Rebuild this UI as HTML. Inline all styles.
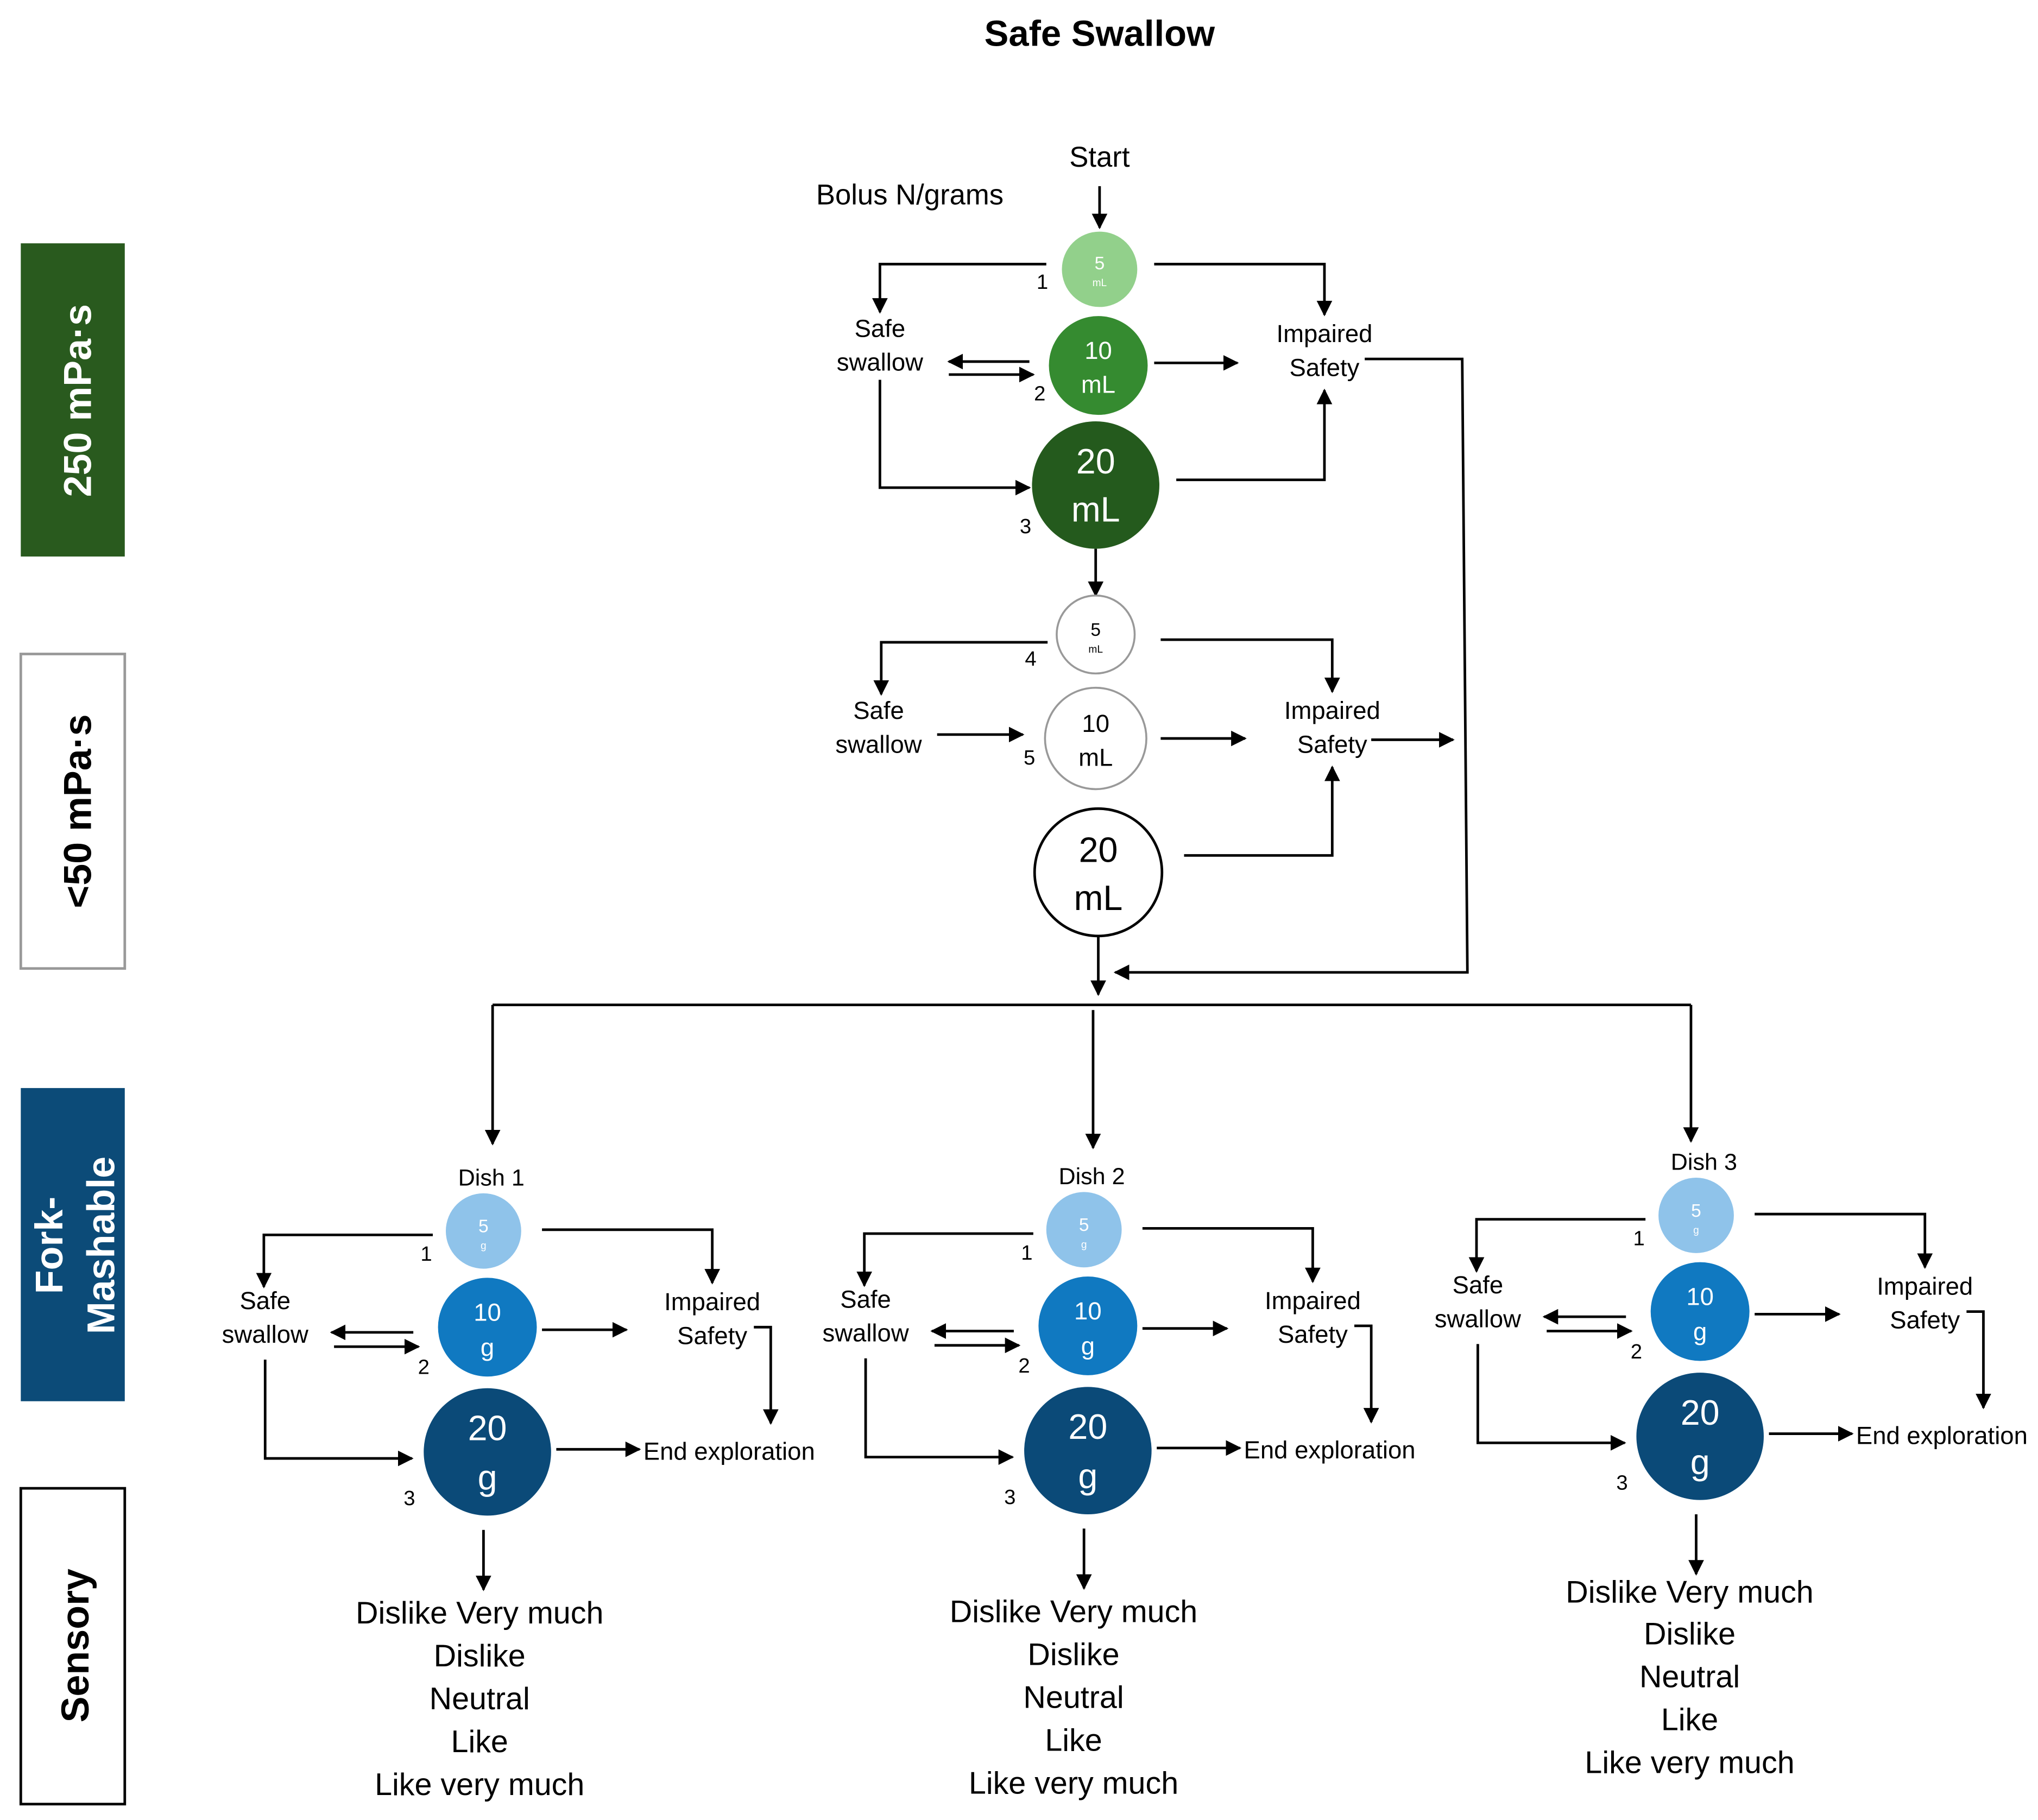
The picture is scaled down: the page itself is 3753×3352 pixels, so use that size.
<!DOCTYPE html>
<html><head><meta charset="utf-8"><style>
html,body{margin:0;padding:0;background:#fff;}
svg{display:block;}
text{font-family:"Liberation Sans",sans-serif;}
</style></head><body>
<svg width="3753" height="3352" viewBox="0 0 1568 1400" xmlns="http://www.w3.org/2000/svg">
<defs>
<marker id="a" viewBox="0 0 10 10" refX="9" refY="5" markerWidth="6" markerHeight="6" orient="auto-start-reverse" markerUnits="strokeWidth"><path d="M0,0L10,5L0,10z" fill="#000"/></marker>
</defs>
<rect width="1568" height="1400" fill="#fff"/>
<text x="846" y="35" font-size="28" font-weight="bold" text-anchor="middle">Safe Swallow</text>

<rect x="16" y="187" width="80" height="241" fill="#295a1e"/>
<text transform="translate(70,308) rotate(-90)" font-size="30" font-weight="bold" fill="#fff" text-anchor="middle">250 mPa·s</text>
<rect x="16" y="503" width="80" height="242" fill="#fff" stroke="#999" stroke-width="2"/>
<text transform="translate(70,624) rotate(-90)" font-size="30" font-weight="bold" text-anchor="middle">&lt;50 mPa·s</text>
<rect x="16" y="837" width="80" height="241" fill="#0c4b78"/>
<text transform="translate(48,958) rotate(-90)" font-size="30" font-weight="bold" fill="#fff" text-anchor="middle">Fork-</text>
<text transform="translate(88,958) rotate(-90)" font-size="30" font-weight="bold" fill="#fff" text-anchor="middle">Mashable</text>
<rect x="16" y="1145" width="80" height="243" fill="#fff" stroke="#000" stroke-width="2"/>
<text transform="translate(68,1266) rotate(-90)" font-size="30" font-weight="bold" text-anchor="middle">Sensory</text>

<g stroke="#000" stroke-width="2" fill="none">
<path d="M846,143V175" marker-end="url(#a)"/>
<path d="M805,203H677V240" marker-end="url(#a)"/>
<path d="M888,203H1019V242" marker-end="url(#a)"/>
<path d="M792,278H730" marker-end="url(#a)"/>
<path d="M730,288H795" marker-end="url(#a)"/>
<path d="M888,279H952" marker-end="url(#a)"/>
<path d="M677,292V375H792" marker-end="url(#a)"/>
<path d="M905,369H1019V300" marker-end="url(#a)"/>
<path d="M1050,276H1125L1129,748H858" marker-end="url(#a)"/>
<path d="M843,422V458" marker-end="url(#a)"/>
<path d="M806,494H678V534" marker-end="url(#a)"/>
<path d="M893,492H1025V532" marker-end="url(#a)"/>
<path d="M721,565H787" marker-end="url(#a)"/>
<path d="M893,568H958" marker-end="url(#a)"/>
<path d="M1055,569H1118" marker-end="url(#a)"/>
<path d="M911,658H1025V590" marker-end="url(#a)"/>
<path d="M845,720V765" marker-end="url(#a)"/>
<path d="M379,773H1301"/>
<path d="M379,773V880" marker-end="url(#a)"/>
<path d="M841,777V883" marker-end="url(#a)"/>
<path d="M1301,773V878" marker-end="url(#a)"/>
</g>

<circle cx="846" cy="207" r="29" fill="#92d08b"/>
<text x="846" y="207" font-size="14" fill="#fff" text-anchor="middle">5</text>
<text x="846" y="220" font-size="8" fill="#fff" text-anchor="middle">mL</text>
<circle cx="845" cy="281" r="38" fill="#358b30"/>
<text x="845" y="276" font-size="19" fill="#fff" text-anchor="middle">10</text>
<text x="845" y="302" font-size="19" fill="#fff" text-anchor="middle">mL</text>
<circle cx="843" cy="373" r="49" fill="#245a1d"/>
<text x="843" y="364" font-size="27" fill="#fff" text-anchor="middle">20</text>
<text x="843" y="401" font-size="27" fill="#fff" text-anchor="middle">mL</text>
<text x="846" y="128" font-size="22" text-anchor="middle">Start</text>
<text x="700" y="157" font-size="22" text-anchor="middle">Bolus N/grams</text>
<g font-size="16" text-anchor="middle">
<text x="802" y="222">1</text><text x="800" y="308">2</text><text x="789" y="410">3</text>
<text x="793" y="512">4</text><text x="792" y="588">5</text>
</g>
<g font-size="19" text-anchor="middle">
<text x="677" y="259">Safe</text><text x="677" y="285">swallow</text>
<text x="1019" y="263">Impaired</text><text x="1019" y="289">Safety</text>
<text x="676" y="553">Safe</text><text x="676" y="579">swallow</text>
<text x="1025" y="553">Impaired</text><text x="1025" y="579">Safety</text>
</g>

<circle cx="843" cy="488" r="30" fill="#fff" stroke="#999" stroke-width="1.5"/>
<text x="843" y="489" font-size="14" text-anchor="middle">5</text>
<text x="843" y="502" font-size="8" text-anchor="middle">mL</text>
<circle cx="843" cy="568" r="39" fill="#fff" stroke="#999" stroke-width="1.5"/>
<text x="843" y="563" font-size="19" text-anchor="middle">10</text>
<text x="843" y="589" font-size="19" text-anchor="middle">mL</text>
<circle cx="845" cy="671" r="49" fill="#fff" stroke="#000" stroke-width="2"/>
<text x="845" y="663" font-size="27" text-anchor="middle">20</text>
<text x="845" y="700" font-size="27" text-anchor="middle">mL</text>

<g>
<g stroke="#000" stroke-width="2" fill="none">
<path d="M333,950H203V990" marker-end="url(#a)"/>
<path d="M417,946H548V987" marker-end="url(#a)"/>
<path d="M318,1025H255" marker-end="url(#a)"/>
<path d="M257,1036H322" marker-end="url(#a)"/>
<path d="M417,1023H482" marker-end="url(#a)"/>
<path d="M580,1021H593V1095" marker-end="url(#a)"/>
<path d="M204,1046V1122H317" marker-end="url(#a)"/>
<path d="M428,1115H492" marker-end="url(#a)"/>
<path d="M372,1177V1223" marker-end="url(#a)"/>
</g>
<circle cx="372" cy="947" r="29" fill="#8fc3ea"/>
<text x="372" y="948" font-size="14" fill="#fff" text-anchor="middle">5</text>
<text x="372" y="961" font-size="8" fill="#fff" text-anchor="middle">g</text>
<circle cx="375" cy="1021" r="38" fill="#1079c1"/>
<text x="375" y="1016" font-size="19" fill="#fff" text-anchor="middle">10</text>
<text x="375" y="1043" font-size="19" fill="#fff" text-anchor="middle">g</text>
<circle cx="375" cy="1117" r="49" fill="#0b4a78"/>
<text x="375" y="1108" font-size="27" fill="#fff" text-anchor="middle">20</text>
<text x="375" y="1146" font-size="27" fill="#fff" text-anchor="middle">g</text>
<text x="378" y="912" font-size="18" text-anchor="middle">Dish 1</text>
<g font-size="16" text-anchor="middle"><text x="328" y="970">1</text><text x="326" y="1057">2</text><text x="315" y="1158">3</text></g>
<g font-size="19" text-anchor="middle">
<text x="204" y="1007">Safe</text><text x="204" y="1033">swallow</text>
<text x="548" y="1008">Impaired</text><text x="548" y="1034">Safety</text>
</g>
<text x="495" y="1123" font-size="19">End exploration</text>
<g font-size="24" text-anchor="middle">
<text x="369" y="1249">Dislike Very much</text><text x="369" y="1282">Dislike</text><text x="369" y="1315">Neutral</text><text x="369" y="1348">Like</text><text x="369" y="1381">Like very much</text>
</g>
</g>

<g transform="translate(462,-1)">
<g stroke="#000" stroke-width="2" fill="none">
<path d="M333,950H203V990" marker-end="url(#a)"/>
<path d="M417,946H548V987" marker-end="url(#a)"/>
<path d="M318,1025H255" marker-end="url(#a)"/>
<path d="M257,1036H322" marker-end="url(#a)"/>
<path d="M417,1023H482" marker-end="url(#a)"/>
<path d="M580,1021H593V1095" marker-end="url(#a)"/>
<path d="M204,1046V1122H317" marker-end="url(#a)"/>
<path d="M428,1115H492" marker-end="url(#a)"/>
<path d="M372,1177V1223" marker-end="url(#a)"/>
</g>
<circle cx="372" cy="947" r="29" fill="#8fc3ea"/>
<text x="372" y="948" font-size="14" fill="#fff" text-anchor="middle">5</text>
<text x="372" y="961" font-size="8" fill="#fff" text-anchor="middle">g</text>
<circle cx="375" cy="1021" r="38" fill="#1079c1"/>
<text x="375" y="1016" font-size="19" fill="#fff" text-anchor="middle">10</text>
<text x="375" y="1043" font-size="19" fill="#fff" text-anchor="middle">g</text>
<circle cx="375" cy="1117" r="49" fill="#0b4a78"/>
<text x="375" y="1108" font-size="27" fill="#fff" text-anchor="middle">20</text>
<text x="375" y="1146" font-size="27" fill="#fff" text-anchor="middle">g</text>
<text x="378" y="912" font-size="18" text-anchor="middle">Dish 2</text>
<g font-size="16" text-anchor="middle"><text x="328" y="970">1</text><text x="326" y="1057">2</text><text x="315" y="1158">3</text></g>
<g font-size="19" text-anchor="middle">
<text x="204" y="1007">Safe</text><text x="204" y="1033">swallow</text>
<text x="548" y="1008">Impaired</text><text x="548" y="1034">Safety</text>
</g>
<text x="495" y="1123" font-size="19">End exploration</text>
<g font-size="24" text-anchor="middle">
<text x="364" y="1249">Dislike Very much</text><text x="364" y="1282">Dislike</text><text x="364" y="1315">Neutral</text><text x="364" y="1348">Like</text><text x="364" y="1381">Like very much</text>
</g>
</g>

<g transform="translate(933,-12)">
<g stroke="#000" stroke-width="2" fill="none">
<path d="M333,950H203V990" marker-end="url(#a)"/>
<path d="M417,946H548V987" marker-end="url(#a)"/>
<path d="M318,1025H255" marker-end="url(#a)"/>
<path d="M257,1036H322" marker-end="url(#a)"/>
<path d="M417,1023H482" marker-end="url(#a)"/>
<path d="M580,1021H593V1095" marker-end="url(#a)"/>
<path d="M204,1046V1122H317" marker-end="url(#a)"/>
<path d="M428,1115H492" marker-end="url(#a)"/>
<path d="M372,1177V1223" marker-end="url(#a)"/>
</g>
<circle cx="372" cy="947" r="29" fill="#8fc3ea"/>
<text x="372" y="948" font-size="14" fill="#fff" text-anchor="middle">5</text>
<text x="372" y="961" font-size="8" fill="#fff" text-anchor="middle">g</text>
<circle cx="375" cy="1021" r="38" fill="#1079c1"/>
<text x="375" y="1016" font-size="19" fill="#fff" text-anchor="middle">10</text>
<text x="375" y="1043" font-size="19" fill="#fff" text-anchor="middle">g</text>
<circle cx="375" cy="1117" r="49" fill="#0b4a78"/>
<text x="375" y="1108" font-size="27" fill="#fff" text-anchor="middle">20</text>
<text x="375" y="1146" font-size="27" fill="#fff" text-anchor="middle">g</text>
<text x="378" y="912" font-size="18" text-anchor="middle">Dish 3</text>
<g font-size="16" text-anchor="middle"><text x="328" y="970">1</text><text x="326" y="1057">2</text><text x="315" y="1158">3</text></g>
<g font-size="19" text-anchor="middle">
<text x="204" y="1007">Safe</text><text x="204" y="1033">swallow</text>
<text x="548" y="1008">Impaired</text><text x="548" y="1034">Safety</text>
</g>
<text x="495" y="1123" font-size="19">End exploration</text>
<g font-size="24" text-anchor="middle">
<text x="367" y="1245">Dislike Very much</text><text x="367" y="1277">Dislike</text><text x="367" y="1310">Neutral</text><text x="367" y="1343">Like</text><text x="367" y="1376">Like very much</text>
</g>
</g>
</svg>
</body></html>
